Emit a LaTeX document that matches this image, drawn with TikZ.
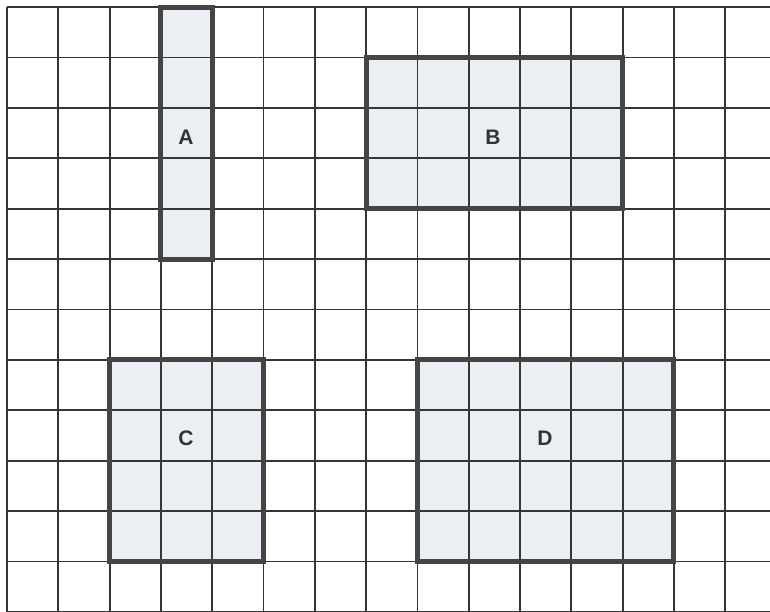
\documentclass[tikz,border=0pt]{standalone}
\usepackage{fontspec}
\setmainfont{Liberation Sans}
\definecolor{gridc}{HTML}{363636}
\definecolor{boxc}{HTML}{444444}
\definecolor{fillc}{HTML}{EBEEF3}
\definecolor{txtc}{HTML}{333333}
\begin{document}
\begin{tikzpicture}[x=1pt,y=-1pt,
  gridline/.style={draw=gridc,line width=1.8pt},
  outlinebox/.style={draw=boxc,line width=5pt,line join=miter},
  shapefill/.style={fill=fillc},
  lbl/.style={text=txtc,font=\fontsize{21}{21}\selectfont\bfseries,inner sep=0pt}]
\useasboundingbox (0,0) rectangle (770,611);
\fill[white] (0,0) rectangle (770,611);
\def\gx#1{7+51.3*#1}
\def\gy#1{7+50.4*#1}
% fills
\fill[shapefill] ({\gx{3}},{\gy{0}}) rectangle ({\gx{4}},{\gy{5}});
\fill[shapefill] ({\gx{7}},{\gy{1}}) rectangle ({\gx{12}},{\gy{4}});
\fill[shapefill] ({\gx{2}},{\gy{7}}) rectangle ({\gx{5}},{\gy{11}});
\fill[shapefill] ({\gx{8}},{\gy{7}}) rectangle ({\gx{13}},{\gy{11}});
% grid
\begin{scope}
\clip (0,0) rectangle (770,611);
\foreach \i in {0,...,14} \draw[gridline] ({\gx{\i}},{\gy{0}}) -- ({\gx{\i}},620);
\foreach \j in {0,...,12} \draw[gridline] ({\gx{0}},{\gy{\j}}) -- (780,{\gy{\j}});
\end{scope}
% outlines
\draw[outlinebox] ({\gx{3}},{\gy{0}}) rectangle ({\gx{4}},{\gy{5}});
\draw[outlinebox] ({\gx{7}},{\gy{1}}) rectangle ({\gx{12}},{\gy{4}});
\draw[outlinebox] ({\gx{2}},{\gy{7}}) rectangle ({\gx{5}},{\gy{11}});
\draw[outlinebox] ({\gx{8}},{\gy{7}}) rectangle ({\gx{13}},{\gy{11}});
% labels
\node[lbl] (A) at (186,137) {A};
\node[lbl] (B) at (493,137) {B};
\node[lbl] (C) at (186,438) {C};
\node[lbl] (D) at (545,438) {D};
\end{tikzpicture}
\end{document}
